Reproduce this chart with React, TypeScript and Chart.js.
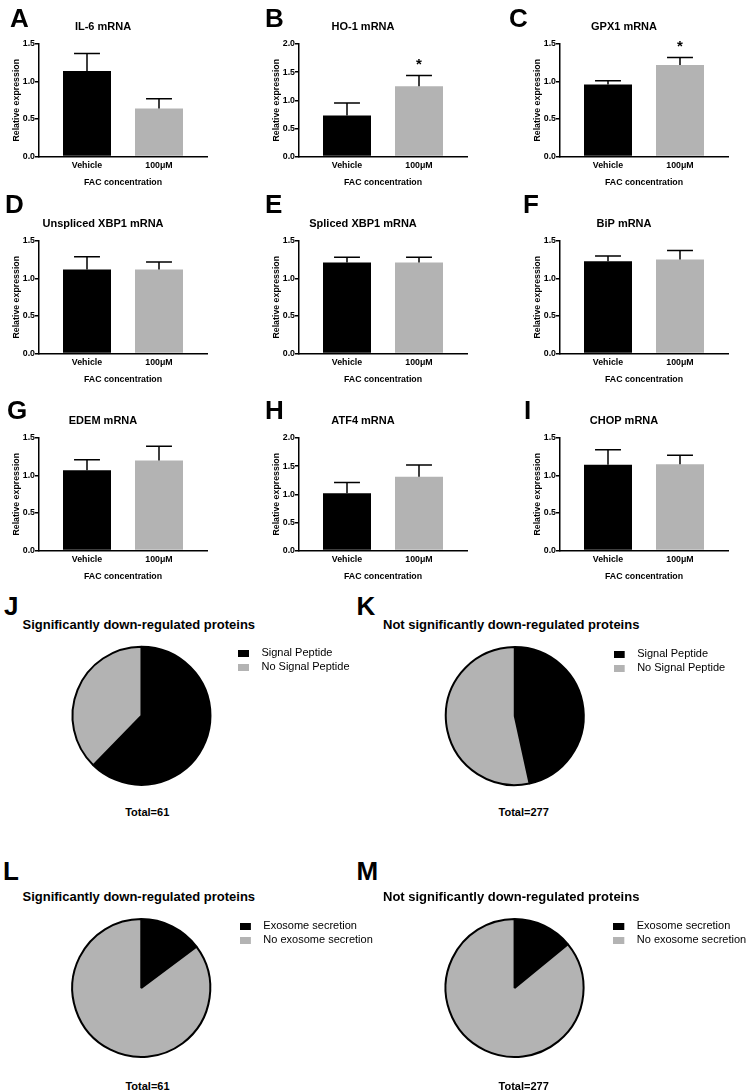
import React, { useEffect, useRef } from 'react';
import { Chart, registerables } from 'chart.js';

Chart.register(...registerables);

const FONT = "'Liberation Sans', Arial, Helvetica, sans-serif";
Chart.defaults.font.family = FONT;
Chart.defaults.color = '#000';

// ---------- bar panel data ----------
const groups = ['Vehicle', '100μM'];
const barColors = ['#000000', '#b3b3b3'];

const il6Mean = [1.14, 0.64];
const il6Sem = [0.235, 0.13];
const ho1Mean = [0.73, 1.25];
const ho1Sem = [0.22, 0.19];
const gpx1Mean = [0.96, 1.22];
const gpx1Sem = [0.05, 0.1];
const uXbp1Mean = [1.12, 1.12];
const uXbp1Sem = [0.17, 0.1];
const sXbp1Mean = [1.215, 1.215];
const sXbp1Sem = [0.067, 0.067];
const bipMean = [1.23, 1.255];
const bipSem = [0.07, 0.12];
const edemMean = [1.07, 1.2];
const edemSem = [0.14, 0.19];
const atf4Mean = [1.02, 1.31];
const atf4Sem = [0.19, 0.21];
const chopMean = [1.145, 1.15];
const chopSem = [0.2, 0.12];

const noMarks = ['', ''];
const sigMarks = ['', '*'];

const yTicksTo15 = 1.5;
const yTicksTo20 = 2.0;

// ---------- pie panel data ----------
const signalLabels = ['Signal Peptide', 'No Signal Peptide'];
const exosomeLabels = ['Exosome secretion', 'No exosome secretion'];
const sigDownSignal = [38, 23];
const notSigDownSignal = [129, 148];
const sigDownExosome = [9, 52];
const notSigDownExosome = [39, 238];
const pieColors = ['#000000', '#b3b3b3'];

const sigTitle = 'Significantly down-regulated proteins';
const notSigTitle = 'Not significantly down-regulated proteins';

const errorBarPlugin = {
  id: 'errorBars',
  afterDatasetsDraw(chart: any, _args: any, opts: any) {
    const { ctx } = chart;
    const meta = chart.getDatasetMeta(0);
    const yScale = chart.scales.y;
    const data = chart.data.datasets[0].data;
    ctx.save();
    ctx.strokeStyle = '#000';
    ctx.fillStyle = '#000';
    ctx.lineWidth = 1.5;
    meta.data.forEach((bar: any, i: number) => {
      const topY = yScale.getPixelForValue(data[i].y + opts.sem[i]);
      const half = bar.width * 0.27;
      ctx.beginPath();
      ctx.moveTo(bar.x, bar.y);
      ctx.lineTo(bar.x, topY);
      ctx.moveTo(bar.x - half, topY);
      ctx.lineTo(bar.x + half, topY);
      ctx.stroke();
      if (opts.marks[i]) {
        ctx.font = `bold 15px ${FONT}`;
        ctx.textAlign = 'center';
        ctx.textBaseline = 'alphabetic';
        ctx.fillText(opts.marks[i], bar.x, topY - 6.5);
      }
    });
    ctx.restore();
  },
};

const tickFont = { size: 8.8, weight: 'bold' as const };

function BarPanel(props: { left: number; top: number; title: string; mean: number[]; sem: number[]; marks: string[]; yMax: number }) {
  const ref = useRef<HTMLCanvasElement>(null);
  const { left, top, title, mean, sem, marks, yMax } = props;
  useEffect(() => {
    const chart = new Chart(ref.current as HTMLCanvasElement, {
      type: 'bar',
      data: {
        datasets: [
          {
            data: mean.map((y, i) => ({ x: i, y })) as any,
            backgroundColor: barColors,
            borderWidth: 0,
            categoryPercentage: 1,
            barPercentage: 2 / 3,
          },
        ],
      },
      options: {
        animation: false,
        responsive: false,
        events: [],
        layout: { padding: { left: 0, right: 40, top: 0, bottom: 2.5 } },
        scales: {
          x: {
            type: 'linear',
            min: -2 / 3,
            max: 5 / 3,
            offset: false,
            bounds: 'data',
            afterBuildTicks: (s: any) => {
              s.ticks = groups.map((_, i) => ({ value: i }));
            },
            afterFit: (s: any) => {
              s.height = 31;
            },
            ticks: {
              callback: (v: any) => groups[v] ?? '',
              font: tickFont,
              color: '#000',
              padding: 4,
              maxRotation: 0,
              autoSkip: false,
            },
            grid: { display: false, drawTicks: false },
            border: { display: true, color: '#000', width: 1.5 },
            title: { display: true, text: 'FAC concentration', font: tickFont, color: '#000', padding: 0 },
          },
          y: {
            min: 0,
            max: yMax,
            afterFit: (s: any) => {
              s.width = 40;
            },
            ticks: {
              stepSize: 0.5,
              callback: (v: any) => Number(v).toFixed(1),
              font: tickFont,
              color: '#000',
              padding: 0,
            },
            grid: { display: true, drawOnChartArea: false, drawTicks: true, tickLength: 4, color: '#000', lineWidth: 1.5 },
            border: { display: true, color: '#000', width: 1.5 },
            title: { display: true, text: 'Relative expression', font: tickFont, color: '#000', padding: { top: 12, bottom: 0 } },
          },
        } as any,
        plugins: {
          legend: { display: false },
          tooltip: { enabled: false },
          title: {
            display: true,
            text: title,
            font: { size: 11, weight: 'bold' },
            color: '#000',
            padding: { top: 20.4, bottom: 10.4 },
          },
          errorBars: { sem, marks },
        } as any,
      },
      plugins: [errorBarPlugin],
    });
    return () => chart.destroy();
  }, []);
  return (
    <canvas
      ref={ref}
      width={248}
      height={190}
      style={{ position: 'absolute', left, top, width: 248, height: 190, display: 'block' }}
    />
  );
}

function makeSwatch(color: string) {
  const c = document.createElement('canvas');
  c.width = 18;
  c.height = 7;
  const g = c.getContext('2d') as CanvasRenderingContext2D;
  g.fillStyle = color;
  g.fillRect(0, 0, 11, 7);
  return c;
}

function PiePanel(props: { left: number; top: number; width: number; height: number; labels: string[]; values: number[]; pad: { left: number; right: number; top: number; bottom: number } }) {
  const ref = useRef<HTMLCanvasElement>(null);
  const { left, top, width, height, labels, values, pad } = props;
  useEffect(() => {
    const chart = new Chart(ref.current as HTMLCanvasElement, {
      type: 'pie',
      data: {
        labels,
        datasets: [
          {
            data: values,
            backgroundColor: pieColors,
            borderColor: '#000000',
            borderWidth: 2,
            borderAlign: 'center',
            hoverBorderWidth: 2,
            hoverBorderColor: '#000000',
          } as any,
        ],
      },
      options: {
        animation: false,
        responsive: false,
        events: [],
        radius: 69,
        layout: { padding: pad },
        plugins: {
          tooltip: { enabled: false },
          legend: {
            position: 'right',
            align: 'start',
            labels: {
              padding: 3,
              usePointStyle: true,
              pointStyleWidth: 18,
              font: { size: 11 },
              color: '#000',
              generateLabels: (ch: any) =>
                ch.data.labels.map((text: string, i: number) => ({
                  text,
                  fillStyle: pieColors[i],
                  strokeStyle: pieColors[i],
                  lineWidth: 0,
                  pointStyle: makeSwatch(pieColors[i]),
                  hidden: false,
                  index: i,
                  fontColor: '#000',
                })),
            },
          },
        },
      } as any,
    });
    return () => chart.destroy();
  }, []);
  return (
    <canvas
      ref={ref}
      width={width}
      height={height}
      style={{ position: 'absolute', left, top, width, height, display: 'block' }}
    />
  );
}

const letterStyle = (left: number, capTop: number): React.CSSProperties => ({
  position: 'absolute',
  left,
  top: capTop - 3.4,
  font: `bold 26px ${FONT}`,
  lineHeight: '26px',
  color: '#000',
  margin: 0,
});

const pieTitleStyle = (left: number, top: number): React.CSSProperties => ({
  position: 'absolute',
  left,
  top,
  font: `bold 13px ${FONT}`,
  lineHeight: '15px',
  color: '#000',
  whiteSpace: 'nowrap',
});

const totalStyle = (cx: number, top: number): React.CSSProperties => ({
  position: 'absolute',
  left: cx - 60,
  width: 120,
  top,
  textAlign: 'center',
  font: `bold 11px ${FONT}`,
  lineHeight: '13px',
  color: '#000',
});

const sum = (a: number[]) => a.reduce((s, v) => s + v, 0);

export default function App() {
  const colX = [-1, 259, 520];
  const rowY = [0, 197, 393.5];
  return (
    <div style={{ position: 'absolute', left: 0, top: 0, width: 747, height: 1091, overflow: 'hidden', background: '#fff' }}>
      <BarPanel left={colX[0]} top={rowY[0]} title="IL-6 mRNA" mean={il6Mean} sem={il6Sem} marks={noMarks} yMax={yTicksTo15} />
      <BarPanel left={colX[1]} top={rowY[0]} title="HO-1 mRNA" mean={ho1Mean} sem={ho1Sem} marks={sigMarks} yMax={yTicksTo20} />
      <BarPanel left={colX[2]} top={rowY[0]} title="GPX1 mRNA" mean={gpx1Mean} sem={gpx1Sem} marks={sigMarks} yMax={yTicksTo15} />
      <BarPanel left={colX[0]} top={rowY[1]} title="Unspliced XBP1 mRNA" mean={uXbp1Mean} sem={uXbp1Sem} marks={noMarks} yMax={yTicksTo15} />
      <BarPanel left={colX[1]} top={rowY[1]} title="Spliced XBP1 mRNA" mean={sXbp1Mean} sem={sXbp1Sem} marks={noMarks} yMax={yTicksTo15} />
      <BarPanel left={colX[2]} top={rowY[1]} title="BiP mRNA" mean={bipMean} sem={bipSem} marks={noMarks} yMax={yTicksTo15} />
      <BarPanel left={colX[0]} top={rowY[2]} title="EDEM mRNA" mean={edemMean} sem={edemSem} marks={noMarks} yMax={yTicksTo15} />
      <BarPanel left={colX[1]} top={rowY[2]} title="ATF4 mRNA" mean={atf4Mean} sem={atf4Sem} marks={noMarks} yMax={yTicksTo20} />
      <BarPanel left={colX[2]} top={rowY[2]} title="CHOP mRNA" mean={chopMean} sem={chopSem} marks={noMarks} yMax={yTicksTo15} />

      <PiePanel left={0} top={640} width={370} height={150} labels={signalLabels} values={sigDownSignal} pad={{ left: 48, right: 10.5, top: 4.5, bottom: 3 }} />
      <PiePanel left={370} top={640} width={377} height={150} labels={signalLabels} values={notSigDownSignal} pad={{ left: 48.9, right: 11.8, top: 5.5, bottom: 3.5 }} />
      <PiePanel left={0} top={910} width={390} height={152} labels={exosomeLabels} values={sigDownExosome} pad={{ left: 45.7, right: 7.2, top: 7.5, bottom: 3.5 }} />
      <PiePanel left={370} top={910} width={390} height={152} labels={exosomeLabels} values={notSigDownExosome} pad={{ left: 48.9, right: 3.8, top: 7.5, bottom: 3.5 }} />

      <div style={pieTitleStyle(22.5, 617.3)}>{sigTitle}</div>
      <div style={pieTitleStyle(383, 617.3)}>{notSigTitle}</div>
      <div style={pieTitleStyle(22.5, 889)}>{sigTitle}</div>
      <div style={pieTitleStyle(383, 889)}>{notSigTitle}</div>

      <div style={totalStyle(147.2, 806.4)}>{`Total=${sum(sigDownSignal)}`}</div>
      <div style={totalStyle(523.7, 806.4)}>{`Total=${sum(notSigDownSignal)}`}</div>
      <div style={totalStyle(147.5, 1079.7)}>{`Total=${sum(sigDownExosome)}`}</div>
      <div style={totalStyle(523.7, 1079.7)}>{`Total=${sum(notSigDownExosome)}`}</div>

      <div style={letterStyle(10, 8.3)}>A</div>
      <div style={letterStyle(265, 8.3)}>B</div>
      <div style={letterStyle(509, 8.3)}>C</div>
      <div style={letterStyle(5, 194.7)}>D</div>
      <div style={letterStyle(265, 194.3)}>E</div>
      <div style={letterStyle(523, 194.3)}>F</div>
      <div style={letterStyle(7, 400)}>G</div>
      <div style={letterStyle(265, 400)}>H</div>
      <div style={letterStyle(524, 400)}>I</div>
      <div style={letterStyle(4, 596.7)}>J</div>
      <div style={letterStyle(356.5, 596.7)}>K</div>
      <div style={letterStyle(3, 861.7)}>L</div>
      <div style={letterStyle(356.5, 861.7)}>M</div>
    </div>
  );
}
